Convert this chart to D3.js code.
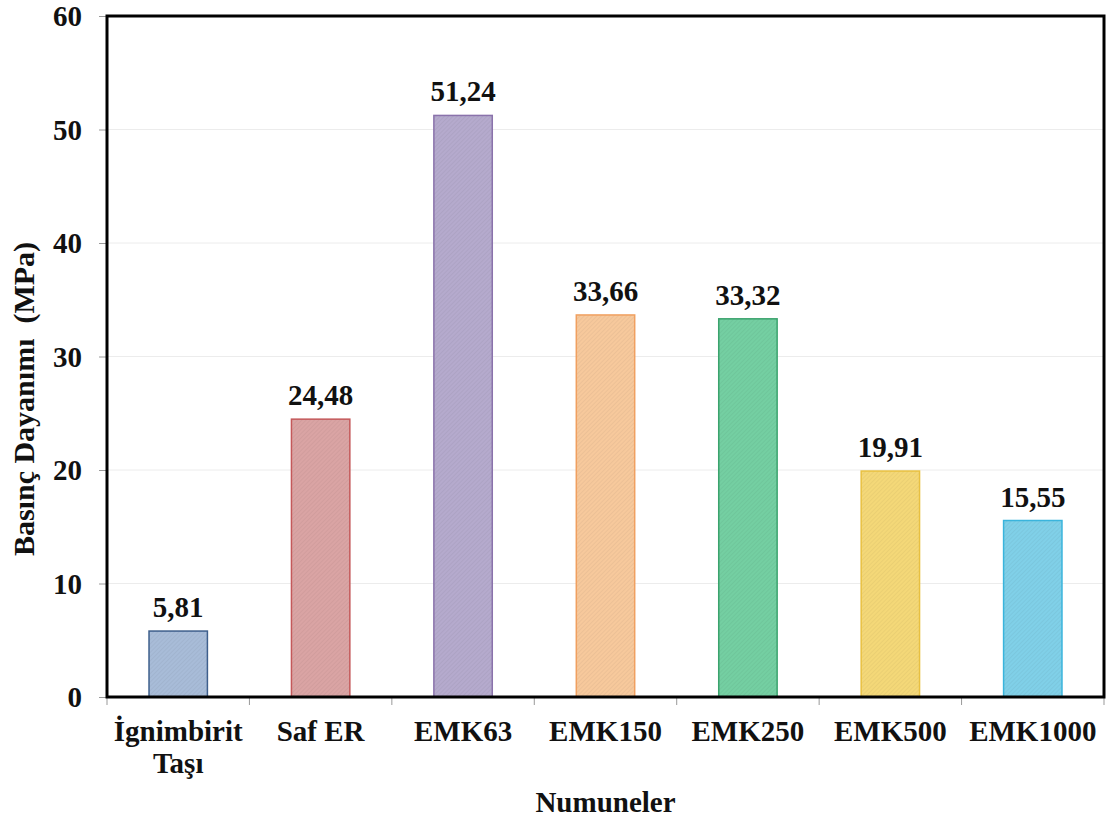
<!DOCTYPE html>
<html>
<head>
<meta charset="utf-8">
<script src="https://cdn.jsdelivr.net/npm/d3@7"></script>
<style>
  html, body { margin: 0; padding: 0; background: #fff; }
  svg { display: block; }
  text { font-family: "Liberation Serif", "Times New Roman", serif; font-weight: bold; fill: #111; }
</style>
</head>
<body>
<svg id="chart" width="1110" height="822"></svg>
<script>
// Compressive strength per sample (MPa)
const categories = ["İgnimbirit\nTaşı", "Saf ER", "EMK63", "EMK150", "EMK250", "EMK500", "EMK1000"];
const values = [5.81, 24.48, 51.24, 33.66, 33.32, 19.91, 15.55];
const valueLabels = ["5,81", "24,48", "51,24", "33,66", "33,32", "19,91", "15,55"];
const yTicks = [0, 10, 20, 30, 40, 50, 60];
const fills = ["#a8bcd8", "#daa4a4", "#b5aacd", "#f7c99c", "#74cfa2", "#f4d878", "#80d0e8"];
const strokes = ["#3e5f8c", "#c4585a", "#8a72ab", "#f0a060", "#3aa36d", "#e8c040", "#3ab4dc"];

const svg = d3.select("#chart");
const margin = { left: 107, right: 6, top: 16, bottom: 125 };
const W = 1110, H = 822;
const x0 = margin.left, x1 = W - margin.right, y0 = margin.top, y1 = H - margin.bottom;

const x = d3.scaleBand().domain(categories).range([x0, x1]).paddingInner(0.59).paddingOuter(0.295);
const y = d3.scaleLinear().domain([0, 60]).range([y1, y0]);

// fine textured fills for the bars
const defs = svg.append("defs");
fills.forEach((c, i) => {
  const p = defs.append("pattern").attr("id", "tex" + i)
    .attr("width", 3).attr("height", 3).attr("patternUnits", "userSpaceOnUse")
    .attr("patternTransform", "rotate(45)");
  p.append("rect").attr("width", 3).attr("height", 3).attr("fill", c);
  p.append("rect").attr("width", 1).attr("height", 3)
    .attr("fill", d3.color(c).darker(0.25)).attr("opacity", 0.5);
});

// horizontal gridlines
svg.append("g").selectAll("line").data(yTicks.slice(1, -1)).join("line")
  .attr("x1", x0).attr("x2", x1).attr("y1", d => y(d)).attr("y2", d => y(d))
  .attr("stroke", "#ececec").attr("stroke-width", 1);

// y axis
const yAxis = svg.append("g").attr("transform", `translate(${x0},0)`)
  .call(d3.axisLeft(y).tickValues(yTicks).tickSize(8).tickPadding(17));
yAxis.select(".domain").remove();
yAxis.selectAll(".tick line").attr("stroke", "#999");
yAxis.selectAll(".tick text").attr("font-size", 29).attr("dy", "0.33em")
  .style("font-family", "Liberation Serif").style("font-weight", "bold").attr("fill", "#111");

// x axis ticks at category boundaries
const bounds = d3.range(categories.length + 1).map(i => x0 + i * (x1 - x0) / categories.length);
svg.append("g").selectAll("line").data(bounds).join("line")
  .attr("x1", d => d).attr("x2", d => d).attr("y1", y1).attr("y2", y1 + 8)
  .attr("stroke", "#999");

// bars
svg.append("g").selectAll("rect").data(values).join("rect")
  .attr("x", (d, i) => x(categories[i]))
  .attr("width", x.bandwidth())
  .attr("y", d => y(d))
  .attr("height", d => y(0) - y(d))
  .attr("fill", (d, i) => `url(#tex${i})`)
  .attr("stroke", (d, i) => strokes[i]).attr("stroke-width", 1.5);

// value labels
svg.append("g").selectAll("text").data(values).join("text")
  .attr("x", (d, i) => x(categories[i]) + x.bandwidth() / 2)
  .attr("y", d => y(d) - 14)
  .attr("text-anchor", "middle").attr("font-size", 29)
  .text((d, i) => valueLabels[i]);

// category labels (multi-line)
svg.append("g").selectAll("text").data(categories).join("text")
  .attr("text-anchor", "middle").attr("font-size", 29)
  .attr("x", d => x(d) + x.bandwidth() / 2)
  .attr("y", 741)
  .each(function (d) {
    d.split("\n").forEach((line, k) => {
      d3.select(this).append("tspan")
        .attr("x", x(d) + x.bandwidth() / 2)
        .attr("dy", k === 0 ? 0 : 32).text(line);
    });
  });

// plot frame
svg.append("rect").attr("x", x0).attr("y", y0).attr("width", x1 - x0).attr("height", y1 - y0)
  .attr("fill", "none").attr("stroke", "#000").attr("stroke-width", 3);

// axis titles
svg.append("text").attr("x", (x0 + x1) / 2).attr("y", 812)
  .attr("text-anchor", "middle").attr("font-size", 29).text("Numuneler");
svg.append("text").attr("transform", `translate(34,399) rotate(-90)`)
  .attr("text-anchor", "middle").attr("font-size", 30).style("white-space", "pre")
  .text("Basınç Dayanımı  (MPa)");
</script>
</body>
</html>
